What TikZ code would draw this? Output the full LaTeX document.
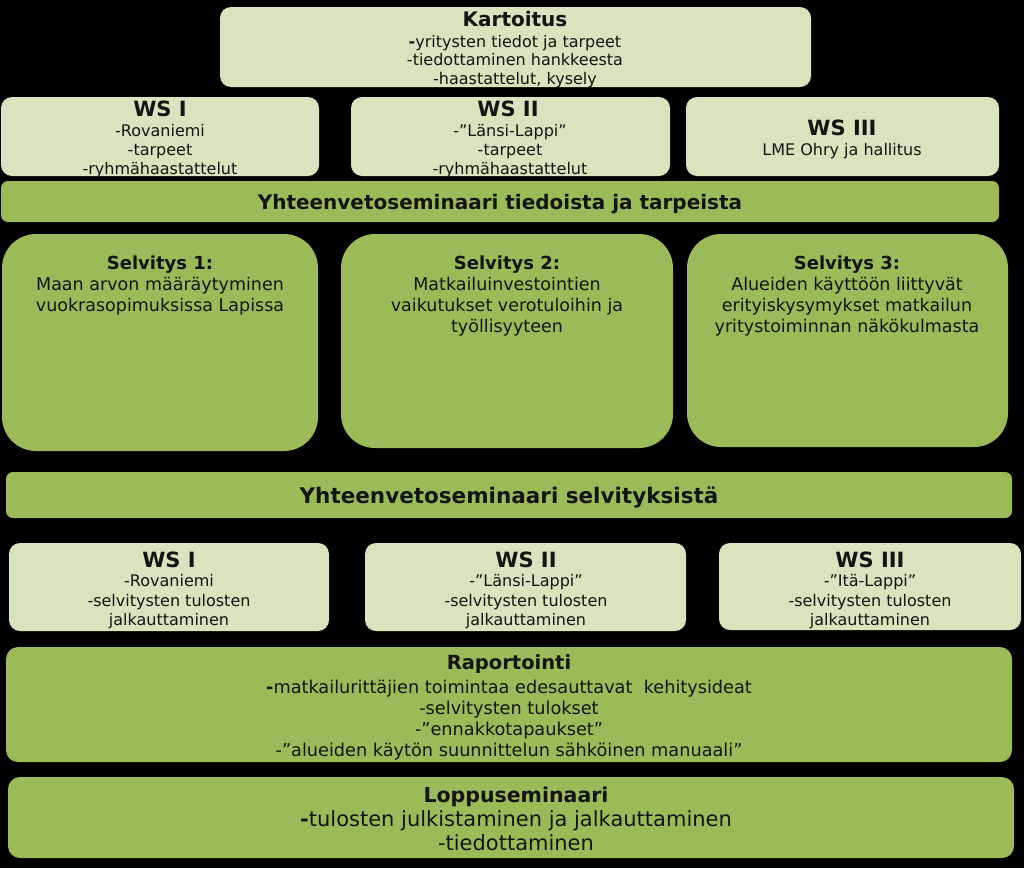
\documentclass[tikz,border=0pt]{standalone}
\usepackage{fontspec}
\setmainfont{DejaVu Sans}
\usepackage{tikz}
\definecolor{mypale}{RGB}{215,228,189}
\definecolor{mygreen}{RGB}{155,187,89}
\definecolor{myink}{RGB}{20,20,20}
\tikzset{
  palebox/.style={rectangle, fill=mypale, rounded corners=11pt, inner sep=0pt},
  greenbar/.style={rectangle, fill=mygreen, rounded corners=7pt, inner sep=0pt},
  studybox/.style={rectangle, fill=mygreen, rounded corners=34pt, inner sep=0pt},
  headtext/.style={anchor=base, inner sep=0pt, text=myink,
    font=\bfseries\fontsize{20}{24}\selectfont},
  linetext/.style={anchor=base, inner sep=0pt, text=myink,
    font=\fontsize{16}{19}\selectfont},
  studyhead/.style={anchor=base, inner sep=0pt, text=myink,
    font=\bfseries\fontsize{18}{21}\selectfont},
  studytext/.style={anchor=base, inner sep=0pt, text=myink,
    font=\fontsize{17.5}{21}\selectfont},
  rephead/.style={anchor=base, inner sep=0pt, text=myink,
    font=\bfseries\fontsize{19.5}{23}\selectfont},
  reptext/.style={anchor=base, inner sep=0pt, text=myink,
    font=\fontsize{17.7}{21}\selectfont},
  endtext/.style={anchor=base, inner sep=0pt, text=myink,
    font=\fontsize{21}{24}\selectfont}
}
\begin{document}
\begin{tikzpicture}[x=1pt, y=-1pt]
  % Background
  \fill[black] (0,0) rectangle (1024,868);
  \useasboundingbox (0,0) rectangle (1024,868);

  % Kartoitus
  \node[palebox, minimum width=591, minimum height=80] (kart) at (515.5,47) {};
  \node[headtext] (kart-t) at (515,26) {Kartoitus};
  \foreach \ln [count=\i] in {{\textbf{-}yritysten tiedot ja tarpeet}, -tiedottaminen hankkeesta, {-haastattelut, kysely}}
    \node[linetext] (kart-\i) at (515,{28.5+18.5*\i}) {\ln};

  % First round of workshops
  \node[palebox, minimum width=318, minimum height=79] (wsa1) at (160,136.5) {};
  \node[palebox, minimum width=319, minimum height=79] (wsa2) at (510.5,136.5) {};
  \node[palebox, minimum width=313, minimum height=79] (wsa3) at (842.5,136.5) {};
  \node[headtext, font=\bfseries\fontsize{21}{24}\selectfont] (wsa1-t) at (160,116) {WS I};
  \node[headtext, font=\bfseries\fontsize{21}{24}\selectfont] (wsa2-t) at (508,116) {WS II};
  \node[headtext, font=\bfseries\fontsize{21}{24}\selectfont] (wsa3-t) at (842,135) {WS III};
  \foreach \ln [count=\i] in {-Rovaniemi, -tarpeet, -ryhmähaastattelut}
    \node[linetext] (wsa1-\i) at (160,{117+19*\i}) {\ln};
  \foreach \ln [count=\i] in {-”Länsi-Lappi”, -tarpeet, -ryhmähaastattelut}
    \node[linetext] (wsa2-\i) at (510,{117+19*\i}) {\ln};
  \node[linetext] (wsa3-1) at (842,155) {LME Ohry ja hallitus};

  % Summary seminar 1
  \node[greenbar, minimum width=998, minimum height=41] (suma) at (500,201.5) {};
  \node[headtext] (suma-t) at (500,209) {Yhteenvetoseminaari tiedoista ja tarpeista};

  % Studies
  \node[studybox, minimum width=316, minimum height=217] (sel1) at (160,342.5) {};
  \node[studybox, minimum width=332, minimum height=214] (sel2) at (507,341) {};
  \node[studybox, minimum width=321, minimum height=213] (sel3) at (847.5,340.5) {};
  \node[studyhead] (sel1-t) at (160,269) {Selvitys 1:};
  \node[studyhead] (sel2-t) at (507,269) {Selvitys 2:};
  \node[studyhead] (sel3-t) at (847,269) {Selvitys 3:};
  \foreach \ln [count=\i] in {Maan arvon määräytyminen, vuokrasopimuksissa Lapissa}
    \node[studytext] (sel1-\i) at (160,{269+21*\i}) {\ln};
  \foreach \ln [count=\i] in {Matkailuinvestointien, vaikutukset verotuloihin ja, työllisyyteen}
    \node[studytext] (sel2-\i) at (507,{269+21*\i}) {\ln};
  \foreach \ln [count=\i] in {Alueiden käyttöön liittyvät, erityiskysymykset matkailun, yritystoiminnan näkökulmasta}
    \node[studytext] (sel3-\i) at (847,{269+21*\i}) {\ln};

  % Summary seminar 2
  \node[greenbar, minimum width=1006, minimum height=46] (sumb) at (509,495) {};
  \node[rephead, font=\bfseries\fontsize{21.5}{25}\selectfont] (sumb-t) at (509,503) {Yhteenvetoseminaari selvityksistä};

  % Second round of workshops
  \node[palebox, minimum width=320, minimum height=88] (wsb1) at (169,587) {};
  \node[palebox, minimum width=321, minimum height=88] (wsb2) at (525.5,587) {};
  \node[palebox, minimum width=302, minimum height=87] (wsb3) at (870,586.5) {};
  \node[headtext, font=\bfseries\fontsize{21}{24}\selectfont] (wsb1-t) at (169,567) {WS I};
  \node[headtext, font=\bfseries\fontsize{21}{24}\selectfont] (wsb2-t) at (526,567) {WS II};
  \node[headtext, font=\bfseries\fontsize{21}{24}\selectfont] (wsb3-t) at (870,567) {WS III};
  \foreach \ln [count=\i] in {-Rovaniemi, -selvitysten tulosten, jalkauttaminen}
    \node[linetext] (wsb1-\i) at (169,{567+19.5*\i}) {\ln};
  \foreach \ln [count=\i] in {-”Länsi-Lappi”, -selvitysten tulosten, jalkauttaminen}
    \node[linetext] (wsb2-\i) at (526,{567+19.5*\i}) {\ln};
  \foreach \ln [count=\i] in {-”Itä-Lappi”, -selvitysten tulosten, jalkauttaminen}
    \node[linetext] (wsb3-\i) at (870,{567+19.5*\i}) {\ln};

  % Raportointi
  \node[greenbar, rounded corners=12pt, minimum width=1006, minimum height=115] (rap) at (509,704.5) {};
  \node[rephead] (rap-t) at (509,669) {Raportointi};
  \foreach \ln [count=\i] in {{\textbf{-}matkailurittäjien toimintaa edesauttavat\ \ kehitysideat}, -selvitysten tulokset, -”ennakkotapaukset”, -”alueiden käytön suunnittelun sähköinen manuaali”}
    \node[reptext] (rap-\i) at (509,{672+21*\i}) {\ln};

  % Loppuseminaari
  \node[greenbar, rounded corners=12pt, minimum width=1006, minimum height=81] (lop) at (511,817.5) {};
  \node[rephead, font=\bfseries\fontsize{20.5}{24}\selectfont] (lop-t) at (516,802) {Loppuseminaari};
  \foreach \ln [count=\i] in {{\textbf{-}tulosten julkistaminen ja jalkauttaminen}, -tiedottaminen}
    \node[endtext] (lop-\i) at (516,{802+24*\i}) {\ln};
\end{tikzpicture}
\end{document}
